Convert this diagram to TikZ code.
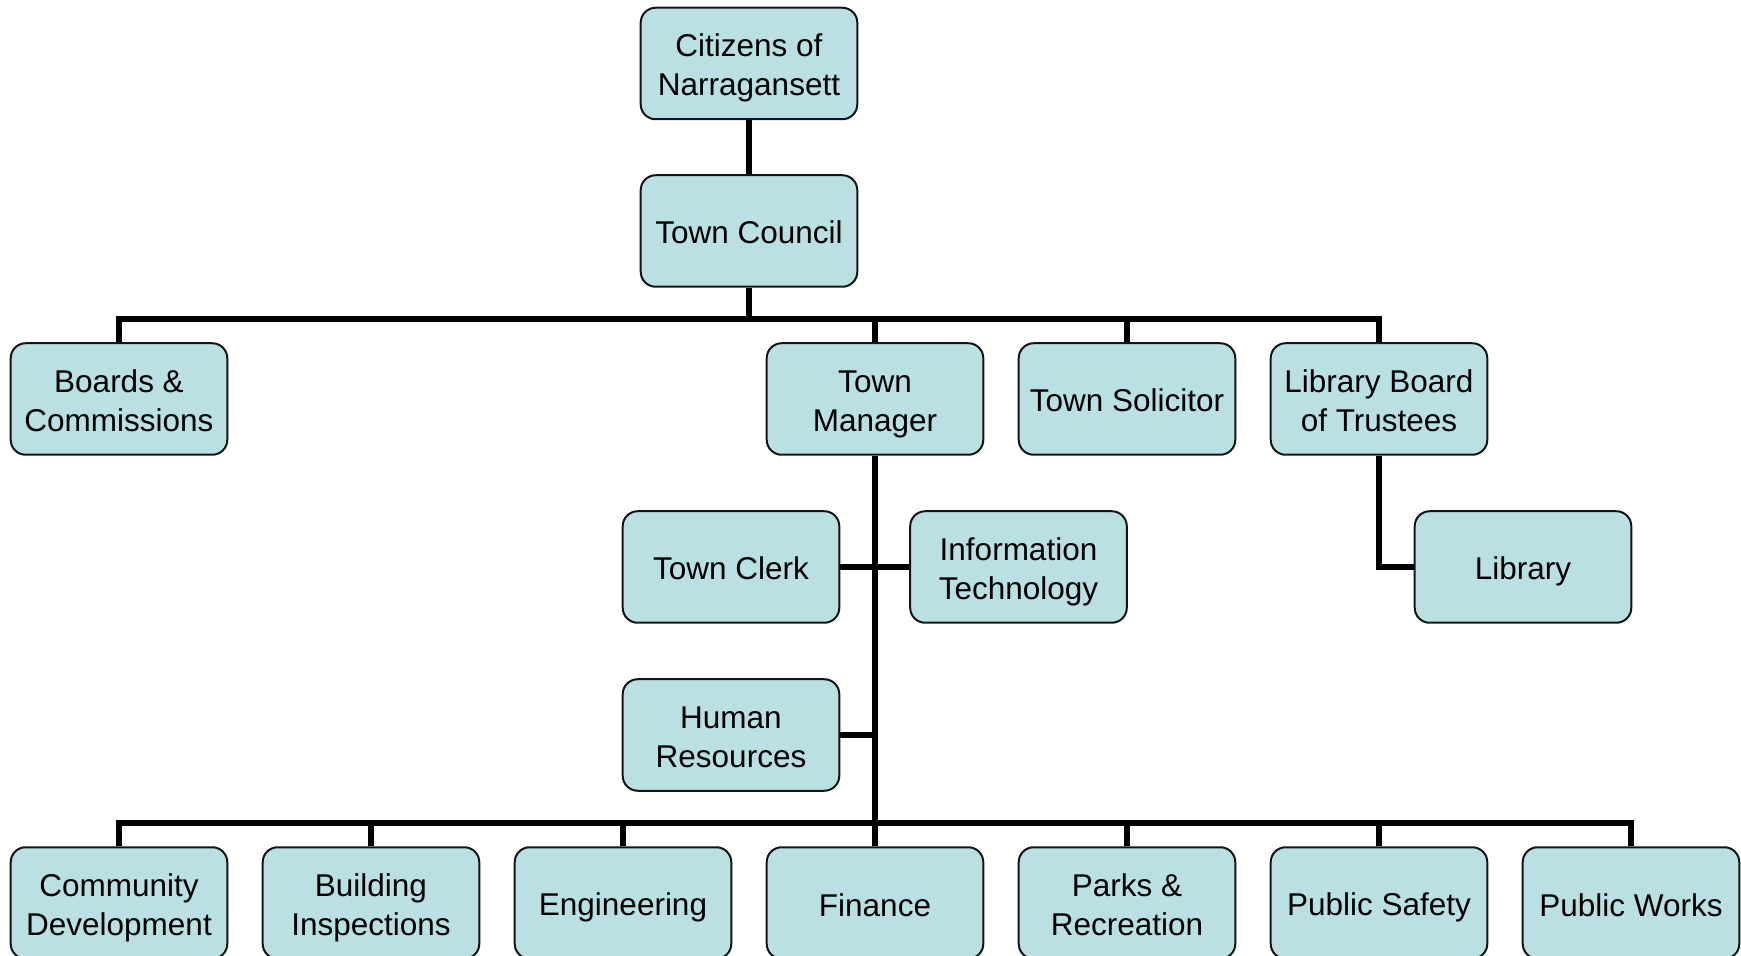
\documentclass[tikz,border=0pt]{standalone}
\usepackage{fontspec}
\setmainfont{Liberation Sans}
\definecolor{boxfill}{RGB}{186,224,227}
\definecolor{boxline}{RGB}{20,20,20}
% label font with a fixed line pitch
\DeclareRobustCommand\unitfont{\fontsize{15.75}{19.5}\selectfont
  \lineskiplimit=-20pt\relax\lineskip=0pt\relax}
% fixed line height and depth so every label line sits at the same level
\newcommand\unitstrut{\rule[-3.25pt]{0pt}{19.5pt}}
\newcommand\twolines[2]{\unitstrut#1\\\unitstrut#2}
\begin{document}
\begin{tikzpicture}[x=0.5pt,y=-0.5pt,
  unit/.style={draw=boxline, line width=1pt, fill=boxfill, rounded corners=7.5pt,
    minimum width=108.3pt, minimum height=55.75pt, inner sep=0pt, align=center,
    font=\unitfont,
    execute at begin node=\unitstrut, execute at end node=\unitstrut},
  link/.style={line width=3pt, line join=miter}]
\useasboundingbox (0,0) rectangle (1741,956);
\fill[white] (0,0) rectangle (1741,956);

% levels of the two horizontal bus lines
\coordinate (busA) at (749,319);
\coordinate (busB) at (875,822.5);

% nodes
\node[unit] (cit) at (749,63.5) {\twolines{Citizens of}{Narragansett}};
\node[unit] (tc) at (749,231) {Town Council};
\node[unit] (boards) at (119,399) {\twolines{Boards \&}{Commissions}};
\node[unit] (tm) at (875,399) {\twolines{Town}{Manager}};
\node[unit] (sol) at (1127,399) {Town Solicitor};
\node[unit] (lbt) at (1379,399) {\twolines{Library Board}{of Trustees}};
\node[unit] (clerk) at (731,567) {Town Clerk};
\node[unit] (it) at (1018.5,567) {\twolines{Information}{Technology}};
\node[unit] (lib) at (1523,567) {Library};
\node[unit] (hr) at (731,735) {\twolines{Human}{Resources}};
\node[unit] (cd) at (119,903) {\twolines{Community}{Development}};
\node[unit] (bi) at (371,903) {\twolines{Building}{Inspections}};
\node[unit] (eng) at (623,903) {Engineering};
\node[unit] (fin) at (875,903) {Finance};
\node[unit] (pr) at (1127,903) {\twolines{Parks \&}{Recreation}};
\node[unit] (ps) at (1379,903) {Public Safety};
\node[unit] (pw) at (1631,903) {Public Works};

% connectors
\begin{scope}[link]
\draw (cit.south) -- (tc.north);
\draw (tc.south) -- (tc.south |- busA);
\draw (boards.north) |- (tc.south |- busA);
\draw (tm.north) |- (tc.south |- busA);
\draw (sol.north) |- (tc.south |- busA);
\draw (lbt.north) |- (tc.south |- busA);
\draw (tm.south) -- (busB);
\draw (clerk.east) -- (it.west);
\draw (hr.east) -- (hr.east -| tm.south);
\draw (lbt.south) |- (lib.west);
\foreach \n in {cd,bi,eng,fin,pr,ps,pw}
  \draw (\n.north) |- (busB);
\end{scope}
\end{tikzpicture}
\end{document}
